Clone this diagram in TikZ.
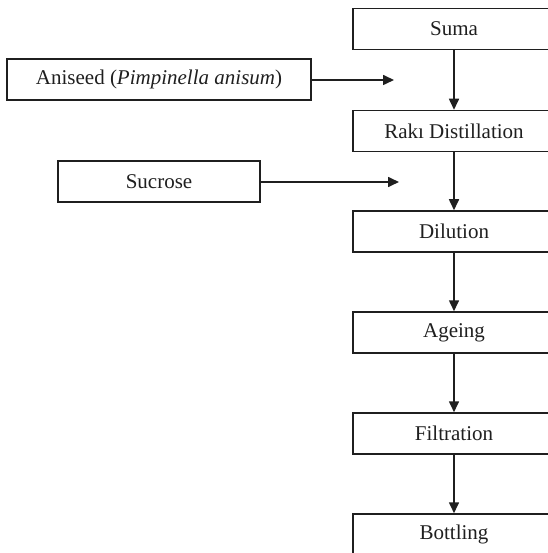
\documentclass[tikz,border=0pt]{standalone}
\usepackage{fontspec}
\setmainfont{Liberation Serif}
\usetikzlibrary{arrows.meta}
\begin{document}
\begin{tikzpicture}[x=1pt,y=-1pt,
  procbox/.style={draw=black!88, line width=1.5pt, minimum width=202pt, minimum height=41pt,
    inner sep=0pt, font=\fontsize{21}{24}\selectfont, text=black!88},
  flow/.style={line width=1.6pt, draw=black!88, -{Triangle[length=11pt,width=10pt]}}]
  \useasboundingbox (0,0) rectangle (547,553);
  % main process column
  \node[procbox] (suma) at (454,29) {Suma};
  \node[procbox] (raki) at (454,131) {Rakı Distillation};
  \node[procbox] (dil)  at (454,231.5) {Dilution};
  \node[procbox] (age)  at (454,332.5) {Ageing};
  \node[procbox] (filt) at (454,433.5) {Filtration};
  \node[procbox] (bott) at (454,534.5) {Bottling};
  % ingredients
  \node[procbox, minimum width=304pt] (anis) at (159,79.5) {Aniseed (\textit{Pimpinella anisum})};
  \node[procbox] (sucr) at (159,181.5) {Sucrose};
  \coordinate (anisend) at (394,80);
  \coordinate (sucrend) at (399,182);
  % connectors
  \draw[flow] (suma) -- (raki);
  \draw[flow] (raki) -- (dil);
  \draw[flow] (dil) -- (age);
  \draw[flow] (age) -- (filt);
  \draw[flow] (filt) -- (bott);
  \draw[flow] (anis.east |- anisend) -- (anisend);
  \draw[flow] (sucr.east |- sucrend) -- (sucrend);
\end{tikzpicture}
\end{document}
